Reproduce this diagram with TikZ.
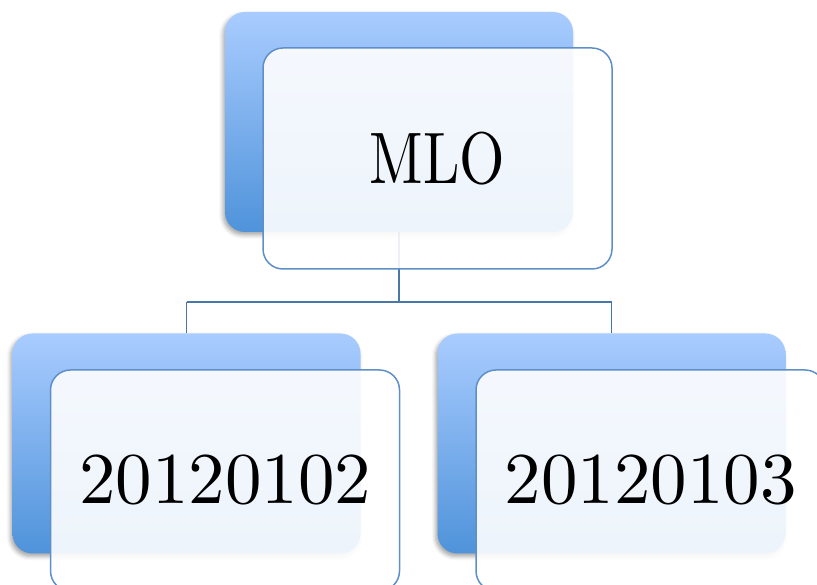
\documentclass[tikz,border=0pt]{standalone}
\usepackage{fontspec}
\newfontfamily\boxfont{lmroman10-regular}[Extension=.otf]
\usetikzlibrary{shadows.blur}
\definecolor{backtop}{HTML}{A9CCFF}
\definecolor{backbot}{HTML}{4F93DA}
\definecolor{frontline}{HTML}{5F8FC9}
\definecolor{linkcol}{HTML}{4A76A8}
\tikzset{
  backbox/.style={rectangle, rounded corners=20pt, minimum width=348pt, minimum height=220pt,
    inner sep=0pt, top color=backtop, bottom color=backbot, draw=none,
    blur shadow={shadow xshift=-2pt, shadow yshift=-3pt, shadow blur radius=4pt, shadow opacity=35}},
  frontbox/.style={rectangle, rounded corners=20pt, minimum width=349pt, minimum height=221pt,
    inner sep=0pt, draw=frontline, line width=1.5pt, fill=white, fill opacity=0.9, text opacity=1,
    font=\boxfont\fontsize{73}{80}\selectfont},
  link/.style={draw=linkcol, line width=1.8pt}
}
\begin{document}
\begin{tikzpicture}[x=1pt,y=1pt]
\useasboundingbox (0,0) rectangle (817,585);
\coordinate (topc) at (399,463);
\coordinate (leftc) at (186.5,141.5);
\coordinate (rightc) at (611.5,141.5);
\coordinate (bus) at (399,283);
% connectors
\draw[link] (399,353) coordinate (topbot) -- (bus);
\draw[link] (leftc |- bus) coordinate (busl) -- (rightc |- bus) coordinate (busr);
\draw[link] (busl) -- (186.5,251.5) coordinate (lefttop);
\draw[link] (busr) -- (611.5,251.5) coordinate (righttop);
% back boxes
\node[backbox] (topback) at (topc) {};
\node[backbox] (leftback) at (leftc) {};
\node[backbox] (rightback) at (rightc) {};
% front boxes
\node[frontbox] (topfront) at (437.5,426.5) {\scalebox{0.8}[1]{MLO}};
\node[frontbox] (leftfront) at (225,104.5) {20120102};
\node[frontbox] (rightfront) at (650.5,104.5) {20120103};
\end{tikzpicture}
\end{document}
